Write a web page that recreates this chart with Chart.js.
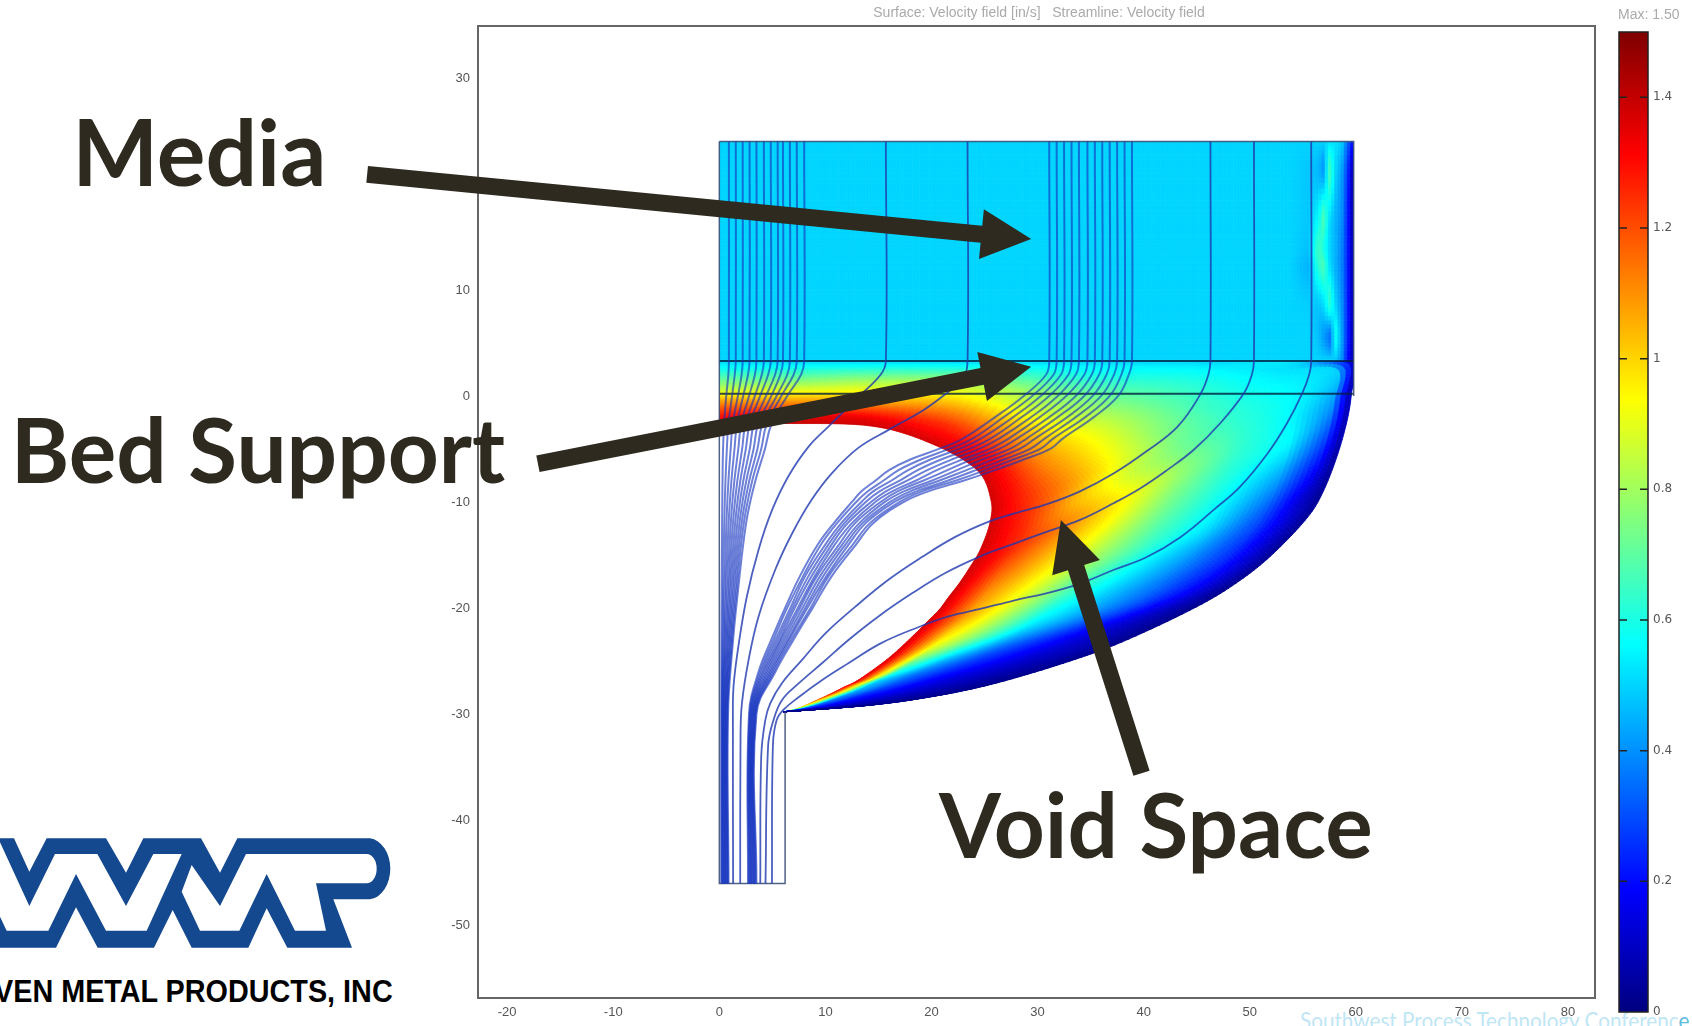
<!DOCTYPE html>
<html>
<head>
<meta charset="utf-8">
<style>
  html, body { margin: 0; padding: 0; background: #fff; width: 1692px; height: 1026px; overflow: hidden; }
  canvas, svg, #footer { position: absolute; }
  #main { left: 0; top: 0; }
  #bar { left: 1595px; top: 0; }
  #logo { left: 0; top: 800px; }
  #footer { left: 1300px; top: 1006px; font: 23px Lato, sans-serif; color: #bfe6f5; white-space: nowrap; transform: scaleX(0.9); transform-origin: left top; }
  #footer b { font-weight: normal; color: #5bbbdd; }
</style>
<script src="https://cdn.jsdelivr.net/npm/chart.js@4/dist/chart.umd.min.js"></script>
</head>
<body>
<div id="footer">Southwest Process Technology Conferenc<b>e</b></div>
<svg id="logo" width="500" height="226" viewBox="0 0 1500 678">
  <path fill="#14498f" fill-rule="evenodd" d="M0 115L42 115L88 215L140 115L318 115L378 218L430 115L603 115L660 218L712 115L1110 115A68 92 0 0 1 1110 298L1000 298L1056 443L862 443L800 325L745 443L575 443L518 330L462 443L293 443L228 322L168 443L0 443Z
    M0 127L88 318L165 162L292 162L378 318L460 162L545 162L440 392L318 392L228 222L145 392L20 392L0 350Z
    M575 195L660 318L738 162L1100 162A30 44 0 0 1 1100 250L948 250L978 392L885 392L800 222L718 392L600 392L545 275Z"/>
  <text x="-18" y="605" textLength="1196" lengthAdjust="spacingAndGlyphs" font-family="Liberation Sans" font-weight="bold" font-size="96" fill="#000">VEN METAL PRODUCTS, INC</text>
</svg>
<canvas id="main" width="1692" height="1026"></canvas>
<canvas id="bar" width="97" height="1026"></canvas>
<script>
const xTicks = [-20, -10, 0, 10, 20, 30, 40, 50, 60, 70, 80];
const yTicks = [30, 10, 0, -10, -20, -30, -40, -50];
const barTicks = [0, 0.2, 0.4, 0.6, 0.8, 1, 1.2, 1.4];
const jetValues = [0, 0.1875, 0.5625, 0.9375, 1.3125, 1.5];
const jetColors = [[0, 0, 127], [0, 0, 255], [0, 255, 255], [255, 255, 0], [255, 0, 0], [127, 0, 0]];

// streamlines, left group: x at each of these y levels
const leftLevels = [24, 3.3, 2, 0, -2.7, -5, -8, -11, -14, -18, -23, -30, -46];
const leftGroup = [
  [0.9, 0.9, 0.85, 0.65, 0.45, 0.35, 0.3, 0.27, 0.25, 0.22, 0.2, 0.18, 0.18],
  [1.55, 1.55, 1.45, 1.2, 0.85, 0.71, 0.58, 0.49, 0.43, 0.36, 0.3, 0.24, 0.24],
  [2.2, 2.2, 2.1, 1.75, 1.25, 1.07, 0.86, 0.71, 0.61, 0.51, 0.4, 0.3, 0.31],
  [2.85, 2.85, 2.7, 2.25, 1.65, 1.43, 1.14, 0.93, 0.79, 0.65, 0.5, 0.35, 0.37],
  [3.5, 3.5, 3.35, 2.8, 2.05, 1.79, 1.42, 1.15, 0.97, 0.8, 0.6, 0.41, 0.43],
  [4.2, 4.2, 4.0, 3.35, 2.45, 2.15, 1.7, 1.37, 1.15, 0.94, 0.7, 0.47, 0.5],
  [4.85, 4.85, 4.6, 3.85, 2.85, 2.5, 1.98, 1.59, 1.33, 1.08, 0.8, 0.53, 0.56],
  [5.5, 5.5, 5.25, 4.4, 3.25, 2.87, 2.26, 1.81, 1.51, 1.23, 0.9, 0.59, 0.62],
  [6.0, 6.0, 5.75, 4.9, 3.65, 3.23, 2.54, 2.03, 1.69, 1.37, 1.0, 0.64, 0.68],
  [6.65, 6.65, 6.4, 5.4, 4.05, 3.59, 2.82, 2.25, 1.87, 1.52, 1.1, 0.7, 0.75],
  [7.3, 7.3, 7.0, 5.85, 4.45, 3.95, 3.1, 2.47, 2.05, 1.66, 1.2, 0.76, 0.81],
  [8, 8, 7.7, 6.4, 4.9, 4.3, 3.4, 2.7, 2.25, 1.8, 1.3, 0.82, 0.87]
];

// streamlines, middle ribbon
const ribbonLevels = [24, 3.3, 2, 0, -2, -4, -5, -6, -7, -8, -9, -10, -12, -14, -17, -20, -23, -26, -30, -46];
const ribbonGroup = [
  [31.1, 31.1, 30.8, 28.7, 26.0, 23.0, 20.7, 18.0, 16.0, 14.7, 13.4, 12.5, 10.8, 9.3, 7.6, 6.2, 4.9, 3.7, 2.8, 2.7],
  [31.8, 31.8, 31.5, 29.5, 26.8, 23.9, 21.65, 19.0, 16.9, 15.45, 14.0, 12.9, 11.1, 9.6, 7.9, 6.4, 5.1, 3.85, 2.86, 2.77],
  [32.5, 32.5, 32.2, 30.3, 27.7, 24.7, 22.6, 19.9, 17.8, 16.2, 14.5, 13.4, 11.5, 10.0, 8.1, 6.7, 5.3, 4.0, 2.93, 2.85],
  [33.2, 33.2, 32.9, 31.1, 28.5, 25.6, 23.55, 20.9, 18.7, 17.0, 15.1, 13.8, 11.8, 10.3, 8.4, 6.9, 5.5, 4.14, 2.99, 2.92],
  [33.9, 33.9, 33.6, 31.9, 29.4, 26.4, 24.5, 21.9, 19.6, 17.7, 15.7, 14.3, 12.1, 10.6, 8.7, 7.1, 5.7, 4.28, 3.06, 2.99],
  [34.7, 34.7, 34.4, 32.7, 30.2, 27.3, 25.5, 22.9, 20.5, 18.5, 16.3, 14.7, 12.5, 10.9, 9.0, 7.4, 5.85, 4.43, 3.12, 3.06],
  [35.4, 35.4, 35.1, 33.6, 31.1, 28.1, 26.4, 23.8, 21.5, 19.2, 16.8, 15.2, 12.8, 11.3, 9.2, 7.6, 6.05, 4.57, 3.18, 3.14],
  [36.1, 36.1, 35.8, 34.4, 31.9, 29.0, 27.4, 24.8, 22.4, 20.0, 17.4, 15.6, 13.2, 11.6, 9.5, 7.85, 6.25, 4.72, 3.25, 3.21],
  [36.8, 36.8, 36.5, 35.2, 32.8, 29.8, 28.3, 25.8, 23.3, 20.7, 18.0, 16.1, 13.5, 11.9, 9.8, 8.1, 6.45, 4.86, 3.31, 3.28],
  [37.5, 37.5, 37.2, 36.0, 33.6, 30.7, 29.3, 26.8, 24.2, 21.5, 18.6, 16.5, 13.8, 12.2, 10.1, 8.3, 6.6, 5.0, 3.37, 3.35],
  [38.2, 38.2, 37.9, 36.8, 34.5, 31.5, 30.25, 27.7, 25.1, 22.25, 19.1, 17.0, 14.2, 12.6, 10.3, 8.6, 6.8, 5.15, 3.44, 3.43],
  [38.9, 38.9, 38.6, 37.6, 35.3, 32.4, 31.2, 28.7, 26.0, 23.0, 19.7, 17.4, 14.5, 12.9, 10.6, 8.8, 7.0, 5.3, 3.5, 3.5]
];

// streamlines, single ones, [x, y]
const lineA = [[15.7, 24], [15.7, 3.3], [15.2, 2], [13, -0.2], [10.45, -2.74], [8.4, -4.8], [6.5, -7.6], [4.96, -10.8], [3.7, -14.5], [2.6, -18.9], [1.8, -23.6], [1.34, -27.4], [1.28, -30.6], [1.3, -46]];
const lineB = [[23.4, 24], [23.4, 3.3], [23, 1.6], [21.6, 0.4], [19.3, -1.3], [15.96, -3.2], [13.1, -4.9], [10.6, -7.3], [8.7, -9.8], [6.85, -13], [5.27, -16.4], [3.7, -20.8], [2.76, -24.9], [2.13, -29], [2.0, -32], [1.97, -46]];
const lineC = [[46.3, 24], [46.3, 3.3], [46.1, 2], [45.4, 0.25], [43.2, -2.9], [40.3, -5.2], [37.2, -7.3], [34, -9], [30.9, -10.2], [27.75, -11.1], [25.4, -11.86], [22.25, -13.3], [19.1, -15.2], [16, -17.3], [12.8, -19.9], [10, -22.4], [7.8, -24.9], [5.9, -27.1], [4.8, -29], [4.33, -30.6], [3.95, -34], [3.86, -46]];
const lineD = [[50.4, 24], [50.4, 3.3], [50.2, 2], [49.45, 0.25], [47.2, -2.6], [44.7, -5.1], [42.2, -7], [39.7, -8.7], [37.2, -10.1], [34, -11.7], [30.9, -12.8], [27.75, -13.95], [24.45, -15.2], [21.3, -16.7], [18.2, -18.6], [15, -20.8], [12.2, -23], [9.7, -25.2], [7.5, -27.1], [5.9, -28.7], [5.1, -30.6], [4.6, -33], [4.35, -46]];
const lineE = [[55.8, 24], [55.8, 3.3], [55.6, 2], [54.95, 0.25], [53.5, -2.6], [51.7, -5.4], [49.1, -8.55], [46.6, -10.75], [43.5, -13.3], [40.3, -15.2], [37.2, -16.4], [34, -17.7], [30.9, -18.6], [27.75, -19.3], [24.6, -20.1], [21.6, -20.8], [18.8, -21.8], [15.3, -23.3], [12.2, -25.2], [9.7, -26.8], [7.5, -28.4], [6.06, -29.6], [5.4, -30.6], [5.05, -33], [4.96, -46]];

// domain outline
const wallLeft = [[0, 24], [0, -46], [6.2, -46], [6.2, -29.8]];
const wallTop = [[0, 24], [59.8, 24], [59.8, 0]];
const layerTop = [[0, 3.3], [59.8, 3.3]];
const layerBottom = [[0, 0.2], [59.8, 0.2]];

// velocity field below the bed: sections from cavity edge to outer wall
const fieldFractions = [0, 0.12, 0.25, 0.4, 0.55, 0.7, 0.85, 0.95, 1];
const fieldInner = [[0, -2.7], [6.4, -2.6], [14.4, -2.85], [20, -4.5], [24.3, -7], [25.6, -9.8], [25.5, -12], [24.6, -14.5], [23.6, -16.2], [22.6, -17.7], [21.6, -19], [20.7, -20.2], [19.5, -21.4], [18.5, -22.4], [16, -24.7], [13.1, -26.8], [11.7, -27.5], [10.3, -28.2], [9.2, -28.7], [8.1, -29.2], [7, -29.6], [6.06, -29.8]];
const fieldOuter = [[0, 3.3], [6.4, 3.3], [14.4, 3.3], [24, 3.3], [36, 3.3], [46, 3.3], [55, 3.3], [59.8, 3.3], [59.6, 0.25], [59.2, -2.26], [58.3, -5.5], [57, -8.87], [55.5, -11.4], [52.3, -14.8], [49.1, -17.4], [45, -19.9], [38, -23.2], [32.5, -25.2], [25.7, -27.2], [19.9, -28.4], [14, -29.2], [6.06, -29.8]];
const fieldValues = [
  [1.4, 1.3, 1.2, 1.05, 0.85, 0.72, 0.6, 0.54, 0.5],
  [1.4, 1.35, 1.2, 1.05, 0.88, 0.74, 0.62, 0.54, 0.5],
  [1.38, 1.34, 1.22, 1.05, 0.92, 0.8, 0.65, 0.55, 0.5],
  [1.38, 1.32, 1.25, 1.12, 0.98, 0.85, 0.68, 0.56, 0.5],
  [1.38, 1.3, 1.15, 1.0, 0.85, 0.75, 0.62, 0.55, 0.5],
  [1.38, 1.27, 1.12, 0.98, 0.85, 0.72, 0.62, 0.55, 0.5],
  [1.38, 1.25, 1.1, 0.92, 0.76, 0.65, 0.57, 0.52, 0.5],
  [1.38, 1.25, 1.05, 0.87, 0.72, 0.62, 0.55, 0.5, 0.08],
  [1.38, 1.25, 1.12, 0.95, 0.78, 0.64, 0.55, 0.42, 0.05],
  [1.38, 1.2, 1.08, 0.93, 0.75, 0.62, 0.55, 0.33, 0.05],
  [1.38, 1.15, 1.02, 0.86, 0.7, 0.58, 0.44, 0.22, 0.04],
  [1.38, 1.1, 0.95, 0.78, 0.64, 0.53, 0.33, 0.12, 0.03],
  [1.38, 1.08, 0.9, 0.7, 0.57, 0.45, 0.28, 0.11, 0.03],
  [1.38, 1.05, 0.85, 0.63, 0.5, 0.38, 0.24, 0.1, 0.03],
  [1.38, 0.9, 0.72, 0.52, 0.42, 0.32, 0.19, 0.08, 0.02],
  [1.38, 0.62, 0.45, 0.33, 0.26, 0.18, 0.1, 0.05, 0.02],
  [1.35, 0.5, 0.35, 0.25, 0.18, 0.12, 0.08, 0.04, 0.02],
  [1.3, 0.45, 0.3, 0.2, 0.14, 0.1, 0.06, 0.04, 0.02],
  [1.2, 0.4, 0.25, 0.17, 0.12, 0.08, 0.05, 0.03, 0.02],
  [1.1, 0.35, 0.22, 0.14, 0.1, 0.07, 0.05, 0.03, 0.02],
  [0.9, 0.3, 0.2, 0.12, 0.09, 0.06, 0.04, 0.03, 0.02],
  [0.7, 0.3, 0.2, 0.12, 0.09, 0.06, 0.04, 0.03, 0.02]
];

// velocity field in the media: horizontal sections, streak near the wall
const mediaFractions = [0, 0.9, 0.93, 0.945, 0.953, 0.963, 0.972, 0.982, 0.99, 1];
const mediaInner = [[0, 24], [0, 21], [0, 17], [0, 14], [0, 12], [0, 8.7], [0, 5.6], [0, 3.3]];
const mediaOuter = [[59.8, 24], [59.8, 21], [59.8, 17], [59.8, 14], [59.8, 12], [59.8, 8.7], [59.8, 5.6], [59.8, 3.3]];
const mediaValues = [
  [0.5, 0.5, 0.5, 0.5, 0.5, 0.52, 0.52, 0.5, 0.35, 0.2],
  [0.5, 0.5, 0.48, 0.46, 0.42, 0.66, 0.5, 0.42, 0.28, 0.06],
  [0.5, 0.5, 0.48, 0.55, 0.66, 0.52, 0.45, 0.4, 0.25, 0.06],
  [0.5, 0.5, 0.47, 0.66, 0.6, 0.5, 0.45, 0.38, 0.25, 0.06],
  [0.5, 0.5, 0.45, 0.62, 0.66, 0.52, 0.45, 0.38, 0.25, 0.06],
  [0.5, 0.5, 0.49, 0.48, 0.52, 0.62, 0.5, 0.4, 0.25, 0.06],
  [0.5, 0.5, 0.5, 0.47, 0.42, 0.36, 0.58, 0.42, 0.25, 0.07],
  [0.5, 0.5, 0.5, 0.5, 0.5, 0.5, 0.48, 0.4, 0.22, 0.06]
];

// annotations, in axis units
const arrows = [[-33.2, 20.9, 29.4, 14.8], [-17.1, -6.4, 29.4, 2.75], [39.8, -35.6, 32.2, -11.7]];
const notes = [['Media', -61, 19.8], ['Bed Support', -66.8, -8.2], ['Void Space', 20.7, -43.6]];
const titleText = 'Surface: Velocity field [in/s]   Streamline: Velocity field';

function jet(v) {
  const c = Math.max(0, Math.min(1.5, v));
  let i = 0;
  while (i < jetValues.length - 2 && c > jetValues[i + 1]) i++;
  const t = (c - jetValues[i]) / (jetValues[i + 1] - jetValues[i]);
  const rgb = jetColors[i].map((a, k) => Math.round(a + (jetColors[i + 1][k] - a) * t));
  return `rgb(${rgb[0]},${rgb[1]},${rgb[2]})`;
}

function smooth(a, b, c, d, t) {
  return 0.5 * (2 * b + (c - a) * t + (2 * a - 5 * b + 4 * c - d) * t * t + (3 * b - a - 3 * c + d) * t * t * t);
}

function pick(rows, s, get) {
  const last = rows.length - 1;
  const i = Math.min(Math.floor(s), last - 1);
  const at = n => get(rows[Math.max(0, Math.min(last, n))]);
  return smooth(at(i - 1), at(i), at(i + 1), at(i + 2), s - i);
}

function paintField(chart, inner, outer, values, fractions, subRows, subCols, topY) {
  const { ctx, scales } = chart;
  const corner = (s, t) => {
    const ix = pick(inner, s, p => p[0]), iy = pick(inner, s, p => p[1]);
    const ox = pick(outer, s, p => p[0]), oy = pick(outer, s, p => p[1]);
    return [scales.x.getPixelForValue(ix + (ox - ix) * t), scales.y.getPixelForValue(iy + (oy - iy) * t)];
  };
  const valueAt = (s, t) => {
    let k = 0;
    while (k < fractions.length - 2 && t > fractions[k + 1]) k++;
    const u = (t - fractions[k]) / (fractions[k + 1] - fractions[k]);
    const a = pick(values, s, r => r[k]), b = pick(values, s, r => r[k + 1]);
    return a + (b - a) * u;
  };
  ctx.save();
  // spline overshoot stays inside the vessel
  const left = scales.x.getPixelForValue(0), right = scales.x.getPixelForValue(59.8);
  const top = scales.y.getPixelForValue(topY), bottom = scales.y.getPixelForValue(-31);
  ctx.beginPath();
  ctx.rect(left, top, right - left, bottom - top);
  ctx.clip();
  ctx.lineWidth = 0.8;
  for (let n = 0; n < (inner.length - 1) * subRows; n++) {
    const s0 = n / subRows, s1 = (n + 1) / subRows;
    for (let m = 0; m < subCols; m++) {
      const t0 = m / subCols, t1 = (m + 1) / subCols;
      const a = corner(s0, t0), b = corner(s0, t1), c = corner(s1, t1), d = corner(s1, t0);
      ctx.fillStyle = ctx.strokeStyle = jet(valueAt((s0 + s1) / 2, (t0 + t1) / 2));
      ctx.beginPath();
      ctx.moveTo(a[0], a[1]);
      ctx.lineTo(b[0], b[1]);
      ctx.lineTo(c[0], c[1]);
      ctx.lineTo(d[0], d[1]);
      ctx.closePath();
      ctx.fill();
      ctx.stroke();
    }
  }
  ctx.restore();
}

const fieldPlugin = {
  id: 'field',
  beforeDatasetsDraw(chart) {
    paintField(chart, mediaInner, mediaOuter, mediaValues, mediaFractions, 8, 200, 24);
    paintField(chart, fieldInner, fieldOuter, fieldValues, fieldFractions, 10, 70, 3.3);
  }
};

const overlayPlugin = {
  id: 'overlay',
  afterDraw(chart) {
    const { ctx, chartArea: area, scales } = chart;
    ctx.save();
    ctx.strokeStyle = '#666';
    ctx.lineWidth = 2;
    ctx.strokeRect(area.left, area.top, area.right - area.left, area.bottom - area.top);

    ctx.font = '14px "Liberation Sans"';
    ctx.fillStyle = '#aaa';
    ctx.textAlign = 'center';
    ctx.textBaseline = 'middle';
    ctx.fillText(titleText, 1039, 13);

    ctx.fillStyle = '#2e2a20';
    arrows.forEach(a => {
      const x0 = scales.x.getPixelForValue(a[0]), y0 = scales.y.getPixelForValue(a[1]);
      const x1 = scales.x.getPixelForValue(a[2]), y1 = scales.y.getPixelForValue(a[3]);
      const angle = Math.atan2(y1 - y0, x1 - x0);
      const len = Math.hypot(x1 - x0, y1 - y0);
      ctx.save();
      ctx.translate(x0, y0);
      ctx.rotate(angle);
      ctx.beginPath();
      ctx.moveTo(0, -8.5);
      ctx.lineTo(len - 50, -8.5);
      ctx.lineTo(len - 50, -25);
      ctx.lineTo(len, 0);
      ctx.lineTo(len - 50, 25);
      ctx.lineTo(len - 50, 8.5);
      ctx.lineTo(0, 8.5);
      ctx.closePath();
      ctx.fill();
      ctx.restore();
    });

    ctx.textAlign = 'left';
    ctx.textBaseline = 'alphabetic';
    notes.forEach(n => {
      ctx.font = n[0] === 'Media' ? 'bold 91px Lato' : 'bold 89px Lato';
      ctx.fillText(n[0], scales.x.getPixelForValue(n[1]), scales.y.getPixelForValue(n[2]));
    });
    ctx.restore();
  }
};

const singleColor = 'rgba(30, 55, 175, 0.8)';
const bundleColor = 'rgba(20, 50, 190, 0.62)';
const wallColor = 'rgba(60, 80, 120, 0.9)';
const bedColor = 'rgba(0, 30, 60, 0.8)';

function streamSet(points, color, width) {
  return { data: points.map(p => ({ x: p[0], y: p[1] })), showLine: true, borderColor: color, borderWidth: width, tension: 0.4, pointRadius: 0, fill: false };
}
function wallSet(points, color, width) {
  return { data: points.map(p => ({ x: p[0], y: p[1] })), showLine: true, borderColor: color, borderWidth: width, tension: 0, pointRadius: 0, fill: false };
}

const singles = [lineA, lineB, lineC, lineD, lineE].map(line => streamSet(line, singleColor, 1.8));
const bundles = leftGroup.map(row => row.map((x, i) => [x, leftLevels[i]]))
  .concat(ribbonGroup.map(row => row.map((x, i) => [x, ribbonLevels[i]])))
  .map(line => streamSet(line, bundleColor, 2));

new Chart(document.getElementById('main'), {
  type: 'scatter',
  data: {
    datasets: singles.concat(bundles,
      [wallSet(wallLeft, wallColor, 1.5), wallSet(wallTop, wallColor, 1.5), wallSet(layerTop, bedColor, 2), wallSet(layerBottom, bedColor, 2)])
  },
  options: {
    responsive: false,
    animation: false,
    devicePixelRatio: 1,
    layout: { padding: { left: 418, top: 26, right: 97, bottom: 0 } },
    plugins: { legend: { display: false }, tooltip: { enabled: false } },
    scales: {
      x: {
        type: 'linear', min: -22.75, max: 82.55,
        grid: { display: false, drawTicks: false }, border: { display: false },
        afterBuildTicks: s => { s.ticks = xTicks.map(v => ({ value: v })); },
        afterFit: s => { s.height = 28; },
        ticks: { autoSkip: false, maxRotation: 0, padding: 7, color: '#555', font: { family: 'Liberation Sans', size: 13 }, callback: v => String(v) }
      },
      y: {
        type: 'linear', min: -56.8, max: 34.9,
        grid: { display: false, drawTicks: false }, border: { display: false },
        afterBuildTicks: s => { s.ticks = yTicks.map(v => ({ value: v })); },
        afterFit: s => { s.width = 60; },
        ticks: { autoSkip: false, padding: 8, color: '#555', font: { family: 'Liberation Sans', size: 13 }, callback: v => String(v) }
      }
    }
  },
  plugins: [fieldPlugin, overlayPlugin]
});

const barPlugin = {
  id: 'barMarks',
  afterDraw(chart) {
    const { ctx, chartArea: area, scales } = chart;
    ctx.save();
    ctx.strokeStyle = '#222';
    ctx.lineWidth = 1.5;
    ctx.strokeRect(area.left, area.top, area.right - area.left, area.bottom - area.top);
    barTicks.slice(1).forEach(v => {
      const y = scales.y.getPixelForValue(v);
      ctx.beginPath();
      ctx.moveTo(area.left, y);
      ctx.lineTo(area.left + 8, y);
      ctx.moveTo(area.right - 8, y);
      ctx.lineTo(area.right, y);
      ctx.stroke();
    });
    ctx.font = '14px "Liberation Sans"';
    ctx.fillStyle = '#aaa';
    ctx.textAlign = 'left';
    ctx.textBaseline = 'middle';
    ctx.fillText('Max: 1.50', 23, 15);
    ctx.restore();
  }
};

new Chart(document.getElementById('bar'), {
  type: 'bar',
  data: {
    labels: ['velocity'],
    datasets: [{
      data: [[0, 1.5]],
      barPercentage: 1,
      categoryPercentage: 1,
      backgroundColor: context => {
        const { ctx, chartArea, scales } = context.chart;
        if (!chartArea) return '#00f';
        const gradient = ctx.createLinearGradient(0, scales.y.getPixelForValue(0), 0, scales.y.getPixelForValue(1.5));
        jetValues.forEach(v => gradient.addColorStop(v / 1.5, jet(v)));
        return gradient;
      }
    }]
  },
  options: {
    responsive: false,
    animation: false,
    devicePixelRatio: 1,
    layout: { padding: { left: 24, top: 32, right: 0, bottom: 14 } },
    plugins: { legend: { display: false }, tooltip: { enabled: false } },
    scales: {
      x: { display: false },
      y: {
        position: 'right', min: 0, max: 1.5,
        grid: { display: false, drawTicks: false }, border: { display: false },
        afterBuildTicks: s => { s.ticks = barTicks.map(v => ({ value: v })); },
        afterFit: s => { s.width = 44; },
        ticks: { autoSkip: false, padding: 5, color: '#555', font: { family: 'DejaVu Sans', size: 12 }, callback: v => String(v) }
      }
    }
  },
  plugins: [barPlugin]
});
</script>
</body>
</html>
